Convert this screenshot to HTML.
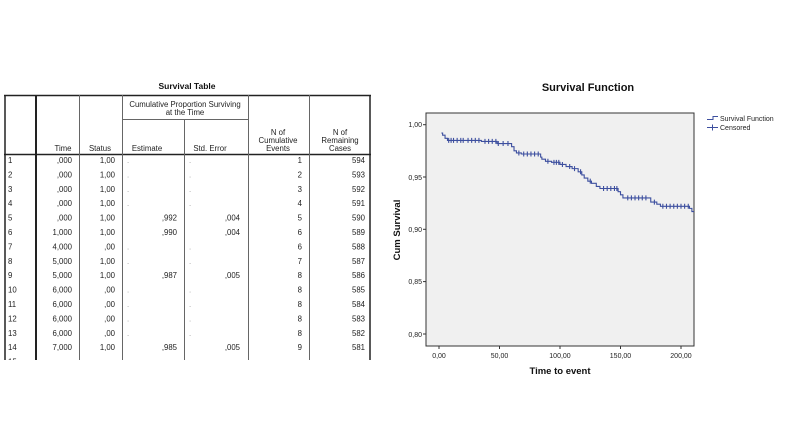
<!DOCTYPE html>
<html><head><meta charset="utf-8"><style>
html,body{margin:0;padding:0;background:#fff;}
svg{display:block;}
text{font-family:"Liberation Sans",sans-serif;}
</style></head><body>
<svg id="s" width="800" height="427" viewBox="0 0 800 427" xmlns="http://www.w3.org/2000/svg">
<defs><clipPath id="tc"><rect x="0" y="0" width="380" height="360"/></clipPath></defs>
<rect width="800" height="427" fill="#fff"/>
<text x="187" y="89" font-size="8.5" font-weight="bold" text-anchor="middle" fill="#111">Survival Table</text>
<g stroke="#222" fill="none">
<line x1="4" y1="95.5" x2="371" y2="95.5" stroke-width="1.5"/>
<line x1="5" y1="95" x2="5" y2="360" stroke-width="1.5"/>
<line x1="370" y1="95" x2="370" y2="360" stroke-width="1.5"/>
<line x1="36" y1="95" x2="36" y2="360" stroke-width="2"/>
<line x1="4" y1="154.5" x2="371" y2="154.5" stroke-width="1.5"/>
</g>
<g stroke="#666" stroke-width="1">
<line x1="79.5" y1="95" x2="79.5" y2="360"/>
<line x1="122.5" y1="95" x2="122.5" y2="360"/>
<line x1="184.5" y1="119" x2="184.5" y2="360"/>
<line x1="248.5" y1="95" x2="248.5" y2="360"/>
<line x1="309.5" y1="95" x2="309.5" y2="360"/>
<line x1="122" y1="119.5" x2="248" y2="119.5"/>
</g>
<g font-size="7.8" fill="#222" text-anchor="middle">
<text x="185" y="107">Cumulative Proportion Surviving</text>
<text x="185" y="115">at the Time</text>
<text x="63" y="151">Time</text>
<text x="100" y="151">Status</text>
<text x="147" y="151">Estimate</text>
<text x="210" y="151">Std. Error</text>
<text x="278" y="135">N of</text>
<text x="278" y="143">Cumulative</text>
<text x="278" y="151">Events</text>
<text x="340" y="135">N of</text>
<text x="340" y="143">Remaining</text>
<text x="340" y="151">Cases</text>
</g>
<g id="rows" font-size="7.8" fill="#222" clip-path="url(#tc)"></g>
<text x="588" y="91" font-size="11" font-weight="bold" text-anchor="middle" fill="#111">Survival Function</text>
<rect x="426" y="113" width="268" height="233" fill="#f0f0f0" stroke="#333" stroke-width="1"/>
<g font-size="7" fill="#222" text-anchor="end">
<text x="422" y="127">1,00</text>
<text x="422" y="180">0,95</text>
<text x="422" y="232">0,90</text>
<text x="422" y="284">0,85</text>
<text x="422" y="337">0,80</text>
</g>
<g stroke="#333"><line x1="423" y1="124.7" x2="426" y2="124.7"/><line x1="423" y1="177" x2="426" y2="177"/><line x1="423" y1="229.3" x2="426" y2="229.3"/><line x1="423" y1="281.6" x2="426" y2="281.6"/><line x1="423" y1="334" x2="426" y2="334"/>
<line x1="439" y1="346" x2="439" y2="349"/><line x1="499.5" y1="346" x2="499.5" y2="349"/><line x1="560" y1="346" x2="560" y2="349"/><line x1="620.5" y1="346" x2="620.5" y2="349"/><line x1="681" y1="346" x2="681" y2="349"/></g>
<g font-size="7" fill="#222" text-anchor="middle">
<text x="439" y="358">0,00</text><text x="499.5" y="358">50,00</text><text x="560" y="358">100,00</text><text x="620.5" y="358">150,00</text><text x="681" y="358">200,00</text>
</g>
<text x="560" y="374" font-size="9.5" font-weight="bold" text-anchor="middle" fill="#111">Time to event</text>
<text transform="translate(400,230) rotate(-90)" font-size="9.5" font-weight="bold" text-anchor="middle" fill="#111">Cum Survival</text>
<g id="curve" fill="none" stroke="#3d4f9f" stroke-width="1.1"></g>
<path d="M707 119.5 H713 V116.5 H718" fill="none" stroke="#3d4f9f"/>
<path d="M707 127.5 H718 M712.5 124.5 V130.5" fill="none" stroke="#3d4f9f"/>
<text x="720" y="121" font-size="7" fill="#222">Survival Function</text>
<text x="720" y="130" font-size="7" fill="#222">Censored</text>
</svg>
<script>
var rows=[["1",",000","1,00","","","1","594"],["2",",000","1,00","","","2","593"],["3",",000","1,00","","","3","592"],["4",",000","1,00","","","4","591"],["5",",000","1,00",",992",",004","5","590"],["6","1,000","1,00",",990",",004","6","589"],["7","4,000",",00","","","6","588"],["8","5,000","1,00","","","7","587"],["9","5,000","1,00",",987",",005","8","586"],["10","6,000",",00","","","8","585"],["11","6,000",",00","","","8","584"],["12","6,000",",00","","","8","583"],["13","6,000",",00","","","8","582"],["14","7,000","1,00",",985",",005","9","581"]];
var g=document.getElementById("rows"),h="";
rows.forEach(function(r,i){var y=163+i*14.4;
h+='<text x="8" y="'+y+'">'+r[0]+'</text>';
h+='<text x="72" y="'+y+'" text-anchor="end">'+r[1]+'</text>';
h+='<text x="115" y="'+y+'" text-anchor="end">'+r[2]+'</text>';
if(r[3]){h+='<text x="177" y="'+y+'" text-anchor="end">'+r[3]+'</text><text x="240" y="'+y+'" text-anchor="end">'+r[4]+'</text>';}
else{h+='<text x="127" y="'+y+'" fill="#999">.</text><text x="189" y="'+y+'" fill="#999">.</text>';}
h+='<text x="302" y="'+y+'" text-anchor="end">'+r[5]+'</text>';
h+='<text x="365" y="'+y+'" text-anchor="end">'+r[6]+'</text>';});
h+='<text x="8" y="'+(163+14*14.4)+'">15</text>';
g.innerHTML=h;
var st=[[2,.008],[3,.010],[5,.013],[7,.015],[35,.016],[48,.018],[60,.021],[62,.025],[64,.027],[68,.028],[84,.031],[85,.033],[88,.035],[93,.036],[100,.038],[105,.040],[110,.042],[115,.045],[118,.048],[120,.051],[123,.054],[126,.056],[130,.059],[133,.061],[148,.064],[150,.067],[152,.070],[175,.074],[180,.076],[183,.078],[207,.080],[209,.083]];
function X(t){return 439+t*1.21}function Y(d){return 124.7+d*1046}
var p="M"+X(2)+" "+Y(.008);
for(var i=1;i<st.length;i++){p+=" H"+X(st[i][0])+" V"+Y(st[i][1]);}
p+=" H694";
function D(t){var d=.008;for(var i=0;i<st.length;i++){if(st[i][0]<=t)d=st[i][1];}return d;}
var cs=[8,10,12,15,18,20,24,27,30,33,38,41,44,47,49,53,57,66,70,73,76,79,82,90,95,97,99,102,108,112,117,125,136,139,142,145,147,156,159,162,165,168,171,178,185,188,191,194,197,200,203,206];
cs.forEach(function(t){var x=X(t),y=Y(D(t));p+=" M"+x+" "+(y-2.5)+" V"+(y+2.5);});
document.getElementById("curve").innerHTML='<path d="'+p+'"/>';
</script>
</body></html>
